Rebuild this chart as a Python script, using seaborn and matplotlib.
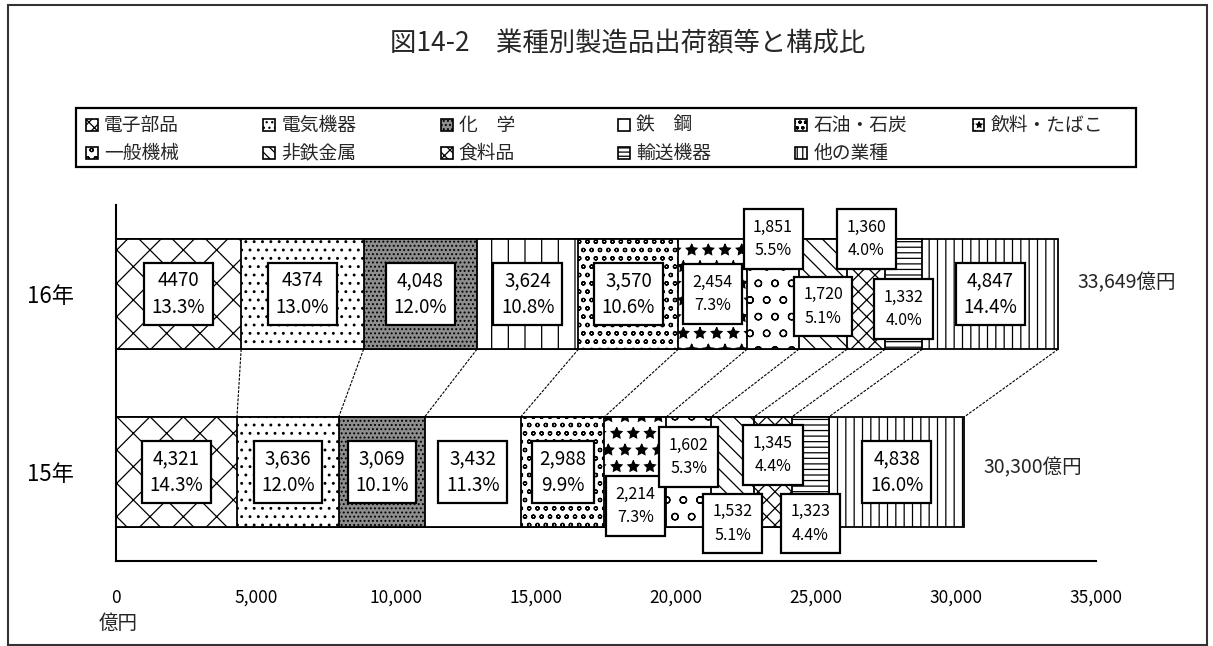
import matplotlib
matplotlib.use("Agg")
import matplotlib.pyplot as plt
import seaborn as sns
import pandas as pd
import numpy as np
from matplotlib.patches import Rectangle

# ---------------- data ----------------
title = "図14-2　業種別製造品出荷額等と構成比"
years = ["16年", "15年"]
categories = ["電子部品", "電気機器", "化　学", "鉄　鋼", "石油・石炭", "飲料・たばこ",
              "一般機械", "非鉄金属", "食料品", "輸送機器", "他の業種"]
values_16 = [4470, 4374, 4048, 3624, 3570, 2454, 1851, 1720, 1360, 1332, 4847]
values_15 = [4321, 3636, 3069, 3432, 2988, 2214, 1602, 1532, 1345, 1323, 4838]
value_labels_16 = ["4470", "4374", "4,048", "3,624", "3,570", "2,454", "1,851", "1,720", "1,360", "1,332", "4,847"]
value_labels_15 = ["4,321", "3,636", "3,069", "3,432", "2,988", "2,214", "1,602", "1,532", "1,345", "1,323", "4,838"]
pct_16 = ["13.3%", "13.0%", "12.0%", "10.8%", "10.6%", "7.3%", "5.5%", "5.1%", "4.0%", "4.0%", "14.4%"]
pct_15 = ["14.3%", "12.0%", "10.1%", "11.3%", "9.9%", "7.3%", "5.3%", "5.1%", "4.4%", "4.4%", "16.0%"]
totals = ["33,649億円", "30,300億円"]
xticks = [0, 5000, 10000, 15000, 20000, 25000, 30000, 35000]
xtick_labels = ["0", "5,000", "10,000", "15,000", "20,000", "25,000", "30,000", "35,000"]
unit_label = "億円"

# ---------------- styles ----------------
hatch_16 = ["x", "..", "....", "|", "oo", "*", "o", "\\\\", "xx", "---", "||"]
hatch_15 = ["x", "..", "....", "", "oo", "*", "o", "\\\\", "xx", "---", "||"]
faces = ["white", "white", "#8e8e8e", "white", "white", "white", "white", "white", "white", "white", "white"]
legend_hatch = ["xxx", "...", "....", "", "ooo", "**", "oo", "\\\\\\", "xxx", "----", "|||"]
off_16 = [0, 0, 0, 0, 0, 0, -0.31, 0.07, -0.31, 0.085, 0]
off_15 = [0, 0, 0, 0, 0, 0.19, -0.085, 0.29, -0.095, 0.29, 0]
small = [False] * 5 + [True] * 5 + [False]

sns.set_theme(style="white")
plt.rcParams["font.family"] = ["Noto Sans CJK JP", "DejaVu Sans"]
plt.rcParams["hatch.linewidth"] = 0.9

W, H = 1213, 646
fig = plt.figure(figsize=(W / 100, H / 100), dpi=100)
ax = fig.add_axes([116 / W, 1 - 561 / H, (1096 - 116) / W, (561 - 205) / H])

bar_h = 0.62
cum16 = np.cumsum(values_16)
cum15 = np.cumsum(values_15)

# stacked bars: draw cumulative bars from the longest down so shorter ones overlay
for k in range(len(categories) - 1, -1, -1):
    df = pd.DataFrame({"year": years, "cum": [cum16[k], cum15[k]]})
    n0 = len(ax.patches)
    sns.barplot(data=df, x="cum", y="year", order=years, orient="h", color="white",
                saturation=1, edgecolor="black", linewidth=1.3, width=bar_h,
                errorbar=None, ax=ax)
    new = ax.patches[n0:]
    for p, hs in zip(new, [hatch_16[k], hatch_15[k]]):
        p.set_facecolor(faces[k])
        p.set_hatch(hs)
        p.set_edgecolor("black")

ax.set_xlim(0, 35000)
ax.set_ylim(1.5, -0.5)
ax.set_xlabel("")
ax.set_ylabel("")

# connector lines between bars
for k in range(len(categories)):
    ax.plot([cum16[k], cum15[k]], [0 + bar_h / 2, 1 - bar_h / 2], color="black",
            lw=0.8, ls=(0, (2.5, 1.2)), zorder=1)

# value boxes
for row, (vals, labs, pcts, offs) in enumerate([(values_16, value_labels_16, pct_16, off_16),
                                                 (values_15, value_labels_15, pct_15, off_15)]):
    cum = np.cumsum(vals)
    for k in range(len(vals)):
        xc = cum[k] - vals[k] / 2
        fs = 11.5 if small[k] else 13.5
        pad = 0.6 if small[k] else 0.4
        ax.text(xc, row + offs[k], f"{labs[k]}\n{pcts[k]}", ha="center", va="center",
                fontsize=fs, linespacing=1.5 if small[k] else 1.35, color="black", zorder=6,
                bbox=dict(boxstyle=f"square,pad={pad}", fc="white", ec="black", lw=1.6))
    ax.annotate(totals[row], xy=(cum[-1], row), xytext=(14, 8 if row == 0 else 3),
                textcoords="offset points", ha="left", va="center", fontsize=14)

# axes styling
for s in ["top", "right"]:
    ax.spines[s].set_visible(False)
for s in ["left", "bottom"]:
    ax.spines[s].set_color("black")
    ax.spines[s].set_linewidth(1.5)
ax.set_xticks(xticks)
ax.set_xticklabels(xtick_labels, fontsize=12.5)
ax.tick_params(axis="x", direction="in", length=6, width=1.3, pad=20, colors="black")
ax.set_yticks([0, 1])
ax.set_yticklabels(years, fontsize=16)
ax.tick_params(axis="y", which="major", length=0, pad=30, colors="black")
ax.set_yticks([-0.5, 0.5, 1.5], minor=True)
ax.tick_params(axis="y", which="minor", direction="in", length=6, width=1.3, colors="black")
ax.grid(False)

fig.text(118 / W, 1 - 623 / H, unit_label, ha="center", va="center", fontsize=14)

# title
fig.text(628 / W, 1 - 44 / H, title, ha="center", va="center", fontsize=19)

# legend box (manual layout, row-major)
fig.patches.append(Rectangle((76 / W, 1 - 167 / H), (1136 - 76) / W, (167 - 108) / H,
                             transform=fig.transFigure, fill=False, ec="black", lw=1.6))
for i, cat in enumerate(categories):
    r, c = divmod(i, 6)
    x0 = 92 + c * 177.3
    yc = 125 + r * 28
    fig.patches.append(Rectangle(((x0 - 6) / W, 1 - (yc + 6) / H), 12 / W, 12 / H,
                                 transform=fig.transFigure, fc=faces[i], ec="black",
                                 lw=1.2, hatch=legend_hatch[i]))
    fig.text((x0 + 12) / W, 1 - yc / H, cat, ha="left", va="center", fontsize=13.5)

# outer frame
fig.patches.append(Rectangle((8 / W, 1 - 645 / H), (1207 - 8) / W, (645 - 5) / H,
                             transform=fig.transFigure, fill=False, ec="#333333", lw=1.5))

fig.savefig("out.png", dpi=100)
